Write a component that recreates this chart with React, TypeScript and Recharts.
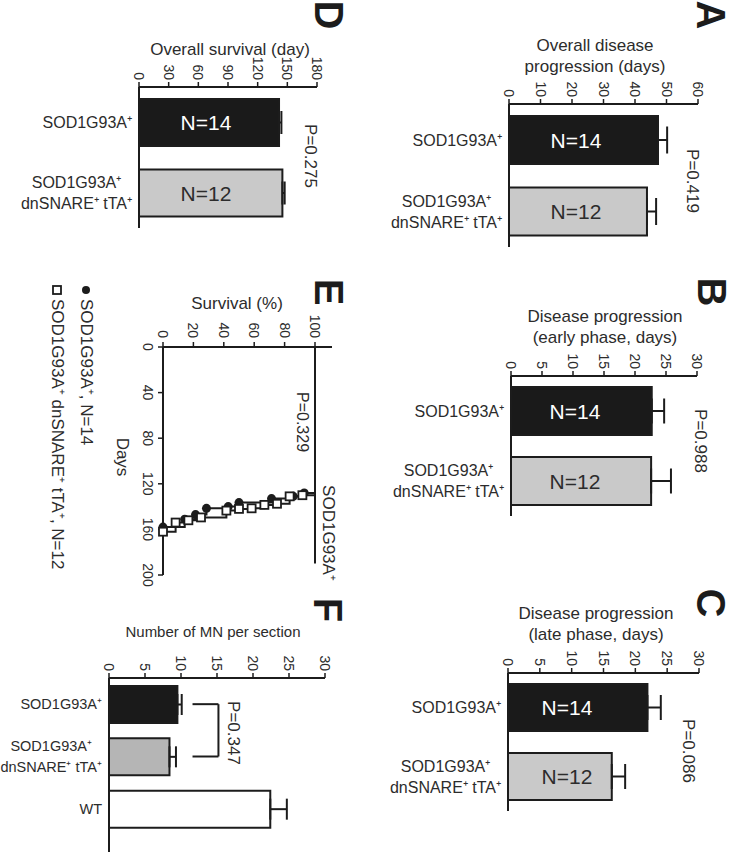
import React from "react";
import {
  Bar,
  BarChart,
  Cell,
  ErrorBar,
  LabelList,
  Line,
  LineChart,
  ReferenceLine,
  XAxis,
  YAxis,
} from "recharts";

const W = 733;
const H = 853;
const INK = "#1c1c1c";
const TXT = "#2c2c2c";
const FONT = "'Liberation Sans', Arial, Helvetica, sans-serif";

// groups and labels
const GROUPS = ["SOD1G93A⁺", "SOD1G93A⁺\ndnSNARE⁺ tTA⁺"];
const GROUPS_F = ["SOD1G93A⁺", "SOD1G93A⁺\ndnSNARE⁺ tTA⁺", "WT"];
const N_TEXT = ["N=14", "N=12"];

// A - overall disease progression (days)
const A_MEAN = [47.3, 43.8];
const A_SEM = [2.9, 2.9];
const A_TICKS = [0, 10, 20, 30, 40, 50, 60];

// B / C - early / late phase
const B_MEAN = [22.7, 22.6];
const B_SEM = [2.0, 3.2];
const C_MEAN = [21.9, 16.3];
const C_SEM = [2.1, 2.1];
const BC_TICKS = [0, 5, 10, 15, 20, 25, 30];

// D - overall survival
const D_MEAN = [141.6, 145.0];
const D_SEM = [2.4, 2.3];
const D_TICKS = [0, 30, 60, 90, 120, 150, 180];

// F - motor neurons per section
const F_MEAN = [9.5, 8.4, 22.4];
const F_SEM = [0.6, 0.9, 2.3];
const F_TICKS = [0, 5, 10, 15, 20, 25, 30];
const F_BRACKET = [11.6, 15.2];

// E - Kaplan-Meier
const E1_DAYS = [0, 128, 131, 133, 136.5, 140, 141.5, 147, 151, 158];
const E1_SURV = [100, 92.9, 85.7, 71.4, 50, 42.9, 28.6, 21.4, 14.3, 0];
const E2_DAYS = [0, 130, 131, 137.5, 138.5, 141.5, 142, 143.5, 149.5, 152, 154, 162];
const E2_SURV = [100, 91.7, 83.3, 75, 66.7, 58.3, 50, 41.7, 25, 16.7, 8.3, 0];
const E_SURV_TICKS = [0, 20, 40, 60, 80, 100];
const E_DAY_TICKS = [0, 40, 80, 120, 160, 200];

const BAR_FILLS = ["#1a1a1a", "#c9c9c9"];
const BAR_FILLS_F = ["#1a1a1a", "#b5b5b5", "#ffffff"];

const rowsOf = (names: string[], mean: number[], sem: number[], n?: string[]) =>
  names.map((name, i) => ({ name, mean: mean[i], err: [0, sem[i]], n: n ? n[i] : "" }));

const e1 = E1_DAYS.map((d, i) => ({ d, s: E1_SURV[i] }));
const e2 = E2_DAYS.map((d, i) => ({ d, s: E2_SURV[i] }));

// text width, used to centre the lines of a two-line group label
let measureCtx: any = null;
const textWidth = (s: string, size: number) => {
  if (!measureCtx) measureCtx = document.createElement("canvas").getContext("2d");
  measureCtx.font = `${size}px 'Liberation Sans'`;
  return measureCtx.measureText(s).width;
};

function RotText({ x, y, anchor = "middle", size, bold, fill = TXT, children }: any) {
  return (
    <text
      x={x}
      y={y}
      transform={`rotate(90 ${x} ${y})`}
      textAnchor={anchor}
      dominantBaseline="central"
      fontSize={size}
      fontWeight={bold ? 700 : 400}
      fill={fill}
    >
      {children}
    </text>
  );
}

// rotated value labels above a top axis
const topTick = (yEnd: number) => (p: any) => (
  <RotText x={p.x} y={yEnd} anchor="end" size={14}>
    {p.payload.value}
  </RotText>
);

const leftRotTick = (xc: number) => (p: any) => (
  <RotText x={xc} y={p.y} size={14}>
    {p.payload.value}
  </RotText>
);

const catTick = (xEnd: number, size: number) => (p: any) => {
  const lines = String(p.payload.value).split("\n");
  const multi = lines.length > 1;
  const cx = multi ? xEnd - Math.max(...lines.map((l) => textWidth(l, size))) / 2 : xEnd;
  return (
    <text textAnchor={multi ? "middle" : "end"} fontSize={size} fill={TXT}>
      {lines.map((l, i) => (
        <tspan key={i} x={cx} y={p.y + (i - (lines.length - 1) / 2) * 21 + size * 0.36}>
          {l}
        </tspan>
      ))}
    </text>
  );
};

function HBarPanel({ rows, fills, box, max, ticks, barSize, cap, nOffset, padBottom = 0, labelSize = 16, children }: any) {
  const [x0, y0, x1, y1] = box;
  const yw = 140;
  const xh = 30;
  const nLabel = (p: any) => {
    const vb = p.viewBox || p;
    const x = vb.x ?? p.x;
    const y = vb.y ?? p.y;
    const h = vb.height ?? p.height;
    return (
      <text
        x={x + nOffset}
        y={y + h / 2}
        textAnchor="middle"
        dominantBaseline="central"
        fontSize={21}
        fill={p.index === 0 ? "#ffffff" : TXT}
      >
        {p.value}
      </text>
    );
  };
  return (
    <div style={{ position: "absolute", left: 0, top: 0 }}>
      <BarChart
        width={W}
        height={H}
        layout="vertical"
        data={rows}
        margin={{ left: x0 - yw, top: y0 - xh, right: W - x1, bottom: H - y1 }}
      >
        <XAxis
          type="number"
          orientation="top"
          domain={[0, max]}
          ticks={ticks}
          height={xh}
          tickSize={5}
          axisLine={{ stroke: INK, strokeWidth: 2 }}
          tickLine={{ stroke: INK, strokeWidth: 1.5 }}
          tick={topTick(y0 - 7)}
        />
        <YAxis
          type="category"
          dataKey="name"
          width={yw}
          tickLine={false}
          axisLine={{ stroke: INK, strokeWidth: 2 }}
          padding={{ top: 0, bottom: padBottom }}
          tick={catTick(x0 - 7, labelSize)}
        />
        <Bar dataKey="mean" barSize={barSize} stroke={INK} strokeWidth={2} isAnimationActive={false}>
          {rows.map((r: any, i: number) => (
            <Cell key={r.name} fill={fills[i]} />
          ))}
          <ErrorBar dataKey="err" direction="x" width={cap / 2} stroke={INK} strokeWidth={2} />
          {nOffset ? <LabelList dataKey="n" content={nLabel} /> : null}
        </Bar>
        {children}
      </BarChart>
    </div>
  );
}

const circleDot = (p: any) =>
  p.index === 0 ? <g key={p.index} /> : <circle key={p.index} cx={p.cx} cy={p.cy} r={4.5} fill={INK} />;
const squareDot = (p: any) =>
  p.index === 0 ? (
    <g key={p.index} />
  ) : (
    <rect key={p.index} x={p.cx - 4} y={p.cy - 4} width={8} height={8} fill="#ffffff" stroke={INK} strokeWidth={1.8} />
  );

function SurvivalPanel() {
  const x0 = 163;
  const y0 = 347;
  const x1 = 332;
  const y1 = 575;
  return (
    <div style={{ position: "absolute", left: 0, top: 0 }}>
      <LineChart width={W} height={H} margin={{ left: x0 - 40, top: y0 - 30, right: W - x1, bottom: H - y1 }}>
        <XAxis
          type="number"
          dataKey="s"
          orientation="top"
          domain={[0, 100]}
          ticks={E_SURV_TICKS}
          padding={{ left: 0, right: 17 }}
          height={30}
          tickSize={5}
          axisLine={{ stroke: INK, strokeWidth: 2 }}
          tickLine={{ stroke: INK, strokeWidth: 1.5 }}
          tick={topTick(y0 - 9)}
        />
        <YAxis
          type="number"
          dataKey="d"
          reversed
          domain={[0, 200]}
          ticks={E_DAY_TICKS}
          width={40}
          tickSize={5}
          axisLine={{ stroke: INK, strokeWidth: 2 }}
          tickLine={{ stroke: INK, strokeWidth: 1.5 }}
          tick={leftRotTick(148)}
        />
        <ReferenceLine
          segment={[
            { x: 100, y: 0 },
            { x: 100, y: 190 },
          ]}
          stroke={INK}
          strokeWidth={2}
        />
        <Line data={e1} dataKey="d" type="stepBefore" stroke={INK} strokeWidth={2} dot={circleDot} isAnimationActive={false} />
        <Line data={e2} dataKey="d" type="stepBefore" stroke={INK} strokeWidth={2} dot={squareDot} isAnimationActive={false} />
      </LineChart>
    </div>
  );
}

function Title({ x, y, lines, size = 17 }: any) {
  return (
    <text textAnchor="middle" fontSize={size} fill={TXT}>
      {lines.map((l: string, i: number) => (
        <tspan key={i} x={x} y={y + i * 21 + size * 0.35}>
          {l}
        </tspan>
      ))}
    </text>
  );
}

export default function App() {
  return (
    <div
      style={{
        position: "absolute",
        left: 0,
        top: 0,
        width: W,
        height: H,
        background: "#ffffff",
        fontFamily: FONT,
        overflow: "hidden",
      }}
    >
      <HBarPanel
        rows={rowsOf(GROUPS, A_MEAN, A_SEM, N_TEXT)}
        fills={BAR_FILLS}
        box={[509, 104, 698, 247]}
        max={60}
        ticks={A_TICKS}
        barSize={48}
        cap={27}
        nOffset={67}
      />
      <HBarPanel
        rows={rowsOf(GROUPS, B_MEAN, B_SEM, N_TEXT)}
        fills={BAR_FILLS}
        box={[511, 376, 697, 516]}
        max={30}
        ticks={BC_TICKS}
        barSize={48}
        cap={25}
        nOffset={64}
      />
      <HBarPanel
        rows={rowsOf(GROUPS, C_MEAN, C_SEM, N_TEXT)}
        fills={BAR_FILLS}
        box={[508, 673, 699, 811]}
        max={30}
        ticks={BC_TICKS}
        barSize={47}
        cap={25}
        nOffset={59}
      />
      <HBarPanel
        rows={rowsOf(GROUPS, D_MEAN, D_SEM, N_TEXT)}
        fills={BAR_FILLS}
        box={[139, 87, 317, 228]}
        max={180}
        ticks={D_TICKS}
        barSize={47}
        cap={23}
        nOffset={67}
      />
      <HBarPanel
        rows={rowsOf(GROUPS_F, F_MEAN, F_SEM)}
        fills={BAR_FILLS_F}
        box={[109, 678, 325, 852]}
        max={30}
        ticks={F_TICKS}
        barSize={37}
        cap={21}
        padBottom={17}
        labelSize={14.5}
      >
        <ReferenceLine
          segment={[
            { x: F_BRACKET[0], y: GROUPS_F[0] },
            { x: F_BRACKET[1], y: GROUPS_F[0] },
          ]}
          stroke={INK}
          strokeWidth={2}
        />
        <ReferenceLine
          segment={[
            { x: F_BRACKET[1], y: GROUPS_F[0] },
            { x: F_BRACKET[1], y: GROUPS_F[1] },
          ]}
          stroke={INK}
          strokeWidth={2}
        />
        <ReferenceLine
          segment={[
            { x: F_BRACKET[0], y: GROUPS_F[1] },
            { x: F_BRACKET[1], y: GROUPS_F[1] },
          ]}
          stroke={INK}
          strokeWidth={2}
        />
      </HBarPanel>
      <SurvivalPanel />

      <svg width={W} height={H} style={{ position: "absolute", left: 0, top: 0, pointerEvents: "none" }}>
        {/* panel letters */}
        <RotText x={711} y={15} size={40} bold fill={INK}>A</RotText>
        <RotText x={712} y={292} size={40} bold fill={INK}>B</RotText>
        <RotText x={711} y={603} size={40} bold fill={INK}>C</RotText>
        <RotText x={329} y={15} size={40} bold fill={INK}>D</RotText>
        <RotText x={329} y={292} size={40} bold fill={INK}>E</RotText>
        <RotText x={328} y={610} size={40} bold fill={INK}>F</RotText>

        {/* titles */}
        <Title x={595} y={45} lines={["Overall disease", "progression (days)"]} />
        <Title x={605} y={316} lines={["Disease progression", "(early phase, days)"]} />
        <Title x={596} y={613} lines={["Disease progression", "(late phase, days)"]} />
        <Title x={230} y={49} lines={["Overall survival (day)"]} />
        <Title x={237} y={303} lines={["Survival (%)"]} />
        <Title x={213} y={632} lines={["Number of MN per section"]} size={15} />

        {/* p values */}
        <RotText x={692} y={181} size={17}>P=0.419</RotText>
        <RotText x={700} y={441} size={17}>P=0.988</RotText>
        <RotText x={688} y={751} size={17}>P=0.086</RotText>
        <RotText x={310} y={156} size={17}>P=0.275</RotText>
        <RotText x={302} y={422} size={16}>P=0.329</RotText>
        <RotText x={233} y={733} size={17}>P=0.347</RotText>

        {/* survival panel annotations */}
        <RotText x={122} y={457} size={17}>Days</RotText>
        <RotText x={328} y={533} size={17}>SOD1G93A⁺</RotText>
        <circle cx={86} cy={290} r={4} fill={INK} />
        <RotText x={86} y={299} anchor="start" size={17}>SOD1G93A⁺, N=14</RotText>
        <rect x={53} y={286} width={8} height={8} fill="#ffffff" stroke={INK} strokeWidth={1.8} />
        <RotText x={57} y={299} anchor="start" size={17}>SOD1G93A⁺ dnSNARE⁺ tTA⁺, N=12</RotText>
      </svg>
    </div>
  );
}
